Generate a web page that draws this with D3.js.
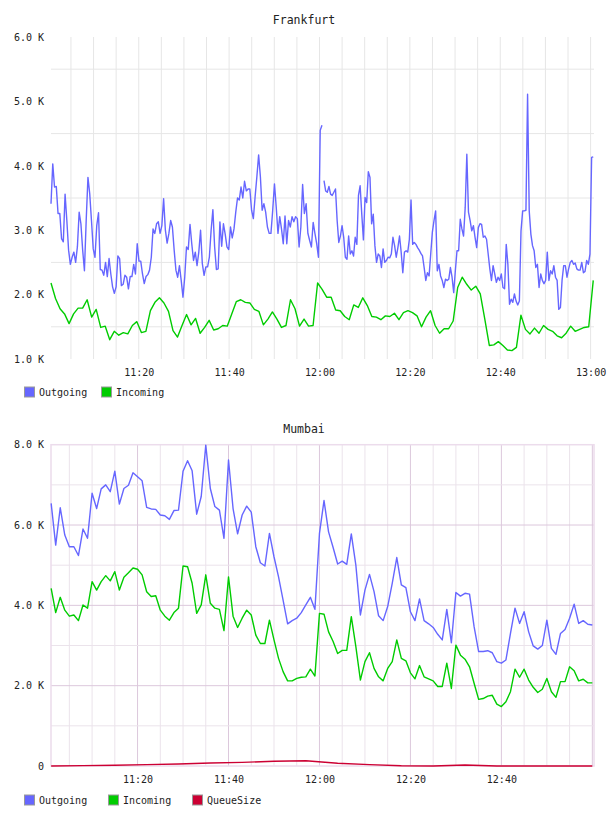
<!DOCTYPE html>
<html>
<head>
<meta charset="utf-8">
<script src="https://cdn.jsdelivr.net/npm/d3@7"></script>
<style>
  body { margin: 0; background: #fff; }
  text { font-family: "DejaVu Sans Mono", monospace; fill: #222; }
</style>
</head>
<body>
<svg id="chart" width="608" height="816"></svg>
<script>
// values are in thousands (K)
var seriesNames = ["Outgoing", "Incoming", "QueueSize"];
var seriesColors = ["#6666ff", "#00cc00", "#cc0033"];

// Frankfurt
var frankfurtTicks = [1, 2, 3, 4, 5, 6];
var frankfurtTimeLabels = ["11:20", "11:40", "12:00", "12:20", "12:40", "13:00"];
var frankfurtRange = ["11:00:35", "13:00:45"];
var frankfurtOutgoingSpanA = ["11:00:35", "12:00:33"];
var frankfurtOutgoingA = [3.41, 4.03, 3.67, 3.68, 3.26, 3.26, 2.87, 2.82, 3.56, 3.15,
  2.69, 2.47, 2.58, 2.66, 2.50, 2.74, 3.28, 3.10, 2.69, 2.37, 3.15, 3.82, 3.57, 3.15,
  2.71, 2.58, 3.07, 3.27, 2.39, 2.38, 2.30, 2.50, 2.28, 2.56, 2.32, 2.12, 2.02, 2.12,
  2.60, 2.56, 2.14, 2.16, 2.30, 2.27, 2.09, 2.28, 2.28, 2.47, 2.32, 2.79, 2.52, 2.52,
  2.32, 2.17, 2.28, 2.31, 2.38, 2.58, 3.02, 2.95, 3.10, 3.13, 2.95, 3.07, 3.49, 3.00,
  2.80, 2.95, 3.15, 3.05, 2.69, 2.38, 2.27, 2.45, 2.22, 1.96, 2.27, 2.74, 2.70, 3.09,
  2.79, 2.53, 2.66, 2.45, 2.66, 3.00, 2.48, 2.30, 2.43, 2.43, 2.58, 3.00, 3.32, 2.74,
  2.39, 2.40, 3.13, 2.75, 3.10, 2.94, 2.74, 2.70, 3.05, 2.88, 3.02, 3.28, 3.50, 3.47,
  3.67, 3.50, 3.76, 3.61, 3.64, 3.64, 3.31, 3.18, 3.52, 3.83, 4.17, 3.83, 3.31, 3.41,
  3.28, 3.05, 2.95, 2.95, 3.31, 3.72, 3.36, 2.95, 3.21, 3.02, 2.79, 3.22, 2.79, 3.15,
  3.05, 3.21, 3.13, 3.21, 3.18, 2.74, 3.05, 3.71, 3.26, 3.41, 2.95, 2.84, 2.74, 3.12,
  2.95, 2.79, 2.58, 4.55, 4.63];
var frankfurtOutgoingSpanB = ["12:01:00", "13:00:35"];
var frankfurtOutgoingB = [3.77, 3.61, 3.59, 3.68, 3.56, 3.54, 3.59, 3.64, 3.15, 2.81,
  2.91, 3.07, 2.89, 2.58, 2.55, 2.91, 2.63, 2.68, 2.60, 2.89, 2.78, 3.54, 3.69, 3.25,
  2.85, 3.51, 3.43, 3.91, 3.82, 3.10, 3.25, 2.76, 2.50, 2.63, 2.60, 2.42, 2.71, 2.50,
  2.53, 2.58, 2.57, 2.63, 2.89, 2.76, 2.58, 2.73, 2.91, 2.66, 2.34, 2.66, 2.68, 2.66,
  2.86, 3.47, 2.78, 2.81, 2.78, 2.73, 2.69, 2.64, 2.60, 2.42, 2.22, 2.34, 2.29, 2.63,
  2.97, 3.15, 3.30, 2.37, 2.47, 2.29, 2.22, 2.11, 2.24, 2.22, 2.24, 2.42, 2.27, 2.03,
  2.37, 2.68, 2.68, 3.17, 3.02, 2.91, 3.35, 4.18, 3.28, 3.15, 2.99, 3.07, 2.89, 2.73,
  3.04, 3.10, 3.09, 2.89, 2.91, 2.86, 2.63, 2.40, 2.22, 2.45, 2.32, 2.19, 2.27, 2.22,
  2.32, 2.11, 2.09, 2.78, 2.47, 1.85, 1.93, 1.88, 2.01, 1.90, 1.84, 1.90, 2.99, 3.30,
  3.30, 3.31, 5.11, 3.30, 2.94, 2.76, 2.68, 2.42, 2.47, 2.11, 2.32, 2.22, 2.17, 2.22,
  2.66, 2.22, 2.37, 2.32, 2.45, 2.27, 2.22, 1.77, 1.80, 2.22, 2.45, 2.45, 2.27, 2.40,
  2.50, 2.53, 2.47, 2.49, 2.40, 2.38, 2.38, 2.50, 2.34, 2.36, 2.53, 2.47, 2.63, 4.13, 4.14];
var frankfurtIncomingStart = "11:00:35"; // one sample per minute
var frankfurtIncoming = [2.18, 1.94, 1.78, 1.70, 1.55, 1.70, 1.79, 1.79, 1.92, 1.65,
  1.77, 1.49, 1.51, 1.30, 1.43, 1.37, 1.41, 1.39, 1.52, 1.58, 1.41, 1.43, 1.75, 1.88,
  1.95, 1.87, 1.74, 1.44, 1.34, 1.52, 1.69, 1.53, 1.63, 1.40, 1.49, 1.60, 1.45, 1.47,
  1.52, 1.51, 1.70, 1.89, 1.92, 1.88, 1.87, 1.77, 1.74, 1.53, 1.62, 1.73, 1.62, 1.49,
  1.52, 1.92, 1.78, 1.51, 1.62, 1.51, 1.52, 2.18, 2.08, 1.96, 1.96, 1.76, 1.75, 1.66,
  1.61, 1.84, 1.80, 1.95, 1.83, 1.66, 1.65, 1.61, 1.67, 1.66, 1.71, 1.61, 1.72, 1.75,
  1.72, 1.67, 1.50, 1.65, 1.75, 1.52, 1.40, 1.47, 1.47, 1.59, 2.11, 2.27, 2.16, 2.07,
  2.13, 2.01, 1.62, 1.21, 1.22, 1.27, 1.21, 1.14, 1.13, 1.18, 1.68, 1.46, 1.39, 1.48,
  1.40, 1.52, 1.46, 1.43, 1.36, 1.33, 1.40, 1.51, 1.43, 1.46, 1.49, 1.50, 2.22];

// Mumbai
var mumbaiTicks = [0, 2, 4, 6, 8];
var mumbaiTimeLabels = ["11:20", "11:40", "12:00", "12:20", "12:40"];
var mumbaiRange = ["11:00:58", "13:00:22"];
var mumbaiStart = "11:01:00"; // one sample per minute
var mumbaiOutgoing = [6.54, 5.50, 6.43, 5.75, 5.46, 5.46, 5.24, 5.90, 5.67, 6.79,
  6.41, 6.90, 7.00, 6.83, 7.34, 6.52, 6.91, 6.99, 7.30, 7.20, 7.10, 6.44, 6.40, 6.39,
  6.25, 6.23, 6.14, 6.36, 6.37, 7.34, 7.60, 7.35, 6.27, 6.71, 7.99, 6.91, 6.46, 6.37,
  5.67, 7.62, 6.41, 5.78, 6.25, 6.47, 6.32, 5.46, 5.06, 4.98, 5.79, 5.21, 4.71, 4.13,
  3.54, 3.62, 3.68, 3.82, 4.01, 4.20, 3.90, 5.79, 6.61, 5.83, 5.44, 5.03, 5.10, 5.02,
  5.78, 5.00, 3.76, 4.38, 4.77, 4.34, 3.74, 3.62, 3.97, 4.55, 5.19, 4.51, 4.44, 3.84,
  3.62, 4.16, 3.62, 3.54, 3.45, 3.28, 3.14, 3.90, 3.07, 4.32, 4.23, 4.30, 4.28, 3.47,
  2.85, 2.85, 2.87, 2.82, 2.60, 2.56, 2.64, 3.30, 3.93, 3.55, 3.84, 3.34, 2.99, 2.91,
  3.00, 3.63, 2.93, 2.78, 3.30, 3.40, 3.68, 4.03, 3.55, 3.62, 3.53, 3.51];
var mumbaiIncoming = [4.42, 3.82, 4.20, 3.88, 3.73, 3.76, 3.62, 4.01, 3.93, 4.59,
  4.38, 4.59, 4.74, 4.61, 4.84, 4.38, 4.70, 4.81, 4.93, 4.90, 4.76, 4.34, 4.22, 4.24,
  3.88, 3.73, 3.63, 3.82, 3.93, 4.98, 4.96, 4.55, 3.80, 4.01, 4.76, 4.05, 3.93, 3.90,
  3.37, 4.71, 3.73, 3.45, 3.68, 3.88, 3.76, 3.26, 3.05, 3.05, 3.63, 3.14, 2.68, 2.35,
  2.12, 2.12, 2.18, 2.21, 2.22, 2.41, 2.24, 3.80, 3.78, 3.34, 3.10, 2.80, 2.88, 2.88,
  3.72, 2.97, 2.14, 2.60, 2.82, 2.43, 2.22, 2.12, 2.43, 2.60, 3.14, 2.68, 2.62, 2.32,
  2.17, 2.50, 2.22, 2.17, 2.12, 1.98, 1.98, 2.56, 1.93, 3.01, 2.76, 2.66, 2.47, 2.06,
  1.66, 1.68, 1.74, 1.76, 1.54, 1.48, 1.60, 1.85, 2.41, 2.21, 2.41, 2.14, 1.96, 1.83,
  1.91, 2.18, 1.85, 1.71, 2.10, 2.10, 2.47, 2.37, 2.12, 2.16, 2.07, 2.07];
var mumbaiQueueStep = 7; // minutes between queue samples
var mumbaiQueue = [0, 0.01, 0.02, 0.035, 0.05, 0.075, 0.09, 0.12, 0.13, 0.07,
  0.035, 0.005, 0, 0.025, 0, 0, 0, 0];

var parseTime = d3.timeParse("%H:%M:%S");

function everyStep(values, start, stepSec) {
  var t0 = parseTime(start).getTime();
  return values.map(function(v, i) { return { t: new Date(t0 + i * stepSec * 1000), v: v }; });
}

function overSpan(values, span) {
  var t0 = parseTime(span[0]).getTime(), t1 = parseTime(span[1]).getTime();
  var step = (t1 - t0) / (values.length - 1);
  return values.map(function(v, i) { return { t: new Date(t0 + i * step), v: v }; });
}

function formatK(d) { return d === 0 ? "0" : d.toFixed(1) + " K"; }

var svg = d3.select("#chart");
var left = 51, right = 594;

function drawChart(cfg) {
  var g = svg.append("g");
  var x = d3.scaleTime().domain(cfg.range.map(parseTime)).range([left, right]);
  var y = d3.scaleLinear().domain(cfg.yDomain).range([cfg.bottom, cfg.top]);
  var h = cfg.bottom - cfg.top;

  var fiveMin = d3.timeMinute.every(5).range(x.domain()[0], x.domain()[1]);
  var isMajorT = function(d) { return cfg.majorGrid && d.getMinutes() % 20 === 0; };

  // vertical grid
  g.selectAll(".vgrid").data(fiveMin).join("line")
    .attr("x1", function(d) { return x(d); }).attr("x2", function(d) { return x(d); })
    .attr("y1", cfg.top).attr("y2", cfg.bottom)
    .attr("stroke", function(d) { return isMajorT(d) ? cfg.majorColor : cfg.gridColor; })
    .attr("stroke-width", 1);

  // horizontal grid
  var hLines = cfg.minorY.map(function(v) { return { v: v, major: false }; })
    .concat(cfg.majorY.map(function(v) { return { v: v, major: true }; }));
  g.selectAll(".hgrid").data(hLines).join("line")
    .attr("x1", left).attr("x2", right)
    .attr("y1", function(d) { return y(d.v); }).attr("y2", function(d) { return y(d.v); })
    .attr("stroke", function(d) { return d.major ? cfg.majorColor : cfg.gridColor; })
    .attr("stroke-width", 1);

  if (cfg.border) {
    g.append("rect").attr("x", left).attr("y", cfg.top)
      .attr("width", right - left).attr("height", h)
      .attr("fill", "none").attr("stroke", cfg.borderColor).attr("stroke-width", 1.5);
  }

  // axes (labels only)
  var yAxis = g.append("g").attr("transform", "translate(" + left + ",0)")
    .call(d3.axisLeft(y).tickValues(cfg.ticks).tickFormat(formatK).tickSize(0).tickPadding(7));
  var xAxis = g.append("g").attr("transform", "translate(0," + cfg.bottom + ")")
    .call(d3.axisBottom(x)
      .tickValues(cfg.timeLabels.map(function(s) { return parseTime(s + ":00"); }))
      .tickFormat(d3.timeFormat("%H:%M")).tickSize(0).tickPadding(10));
  [yAxis, xAxis].forEach(function(a) {
    a.select(".domain").remove();
    a.selectAll("text").style("font-family", "'DejaVu Sans Mono', monospace")
      .style("font-size", "10px").attr("fill", "#222");
  });

  // title
  g.append("text").attr("x", 304).attr("y", cfg.titleY).attr("text-anchor", "middle")
    .style("font-size", "11.5px").text(cfg.title);

  // lines
  var line = d3.line().x(function(d) { return x(d.t); }).y(function(d) { return y(d.v); });
  cfg.series.forEach(function(s) {
    s.parts.forEach(function(p) {
      g.append("path").datum(p).attr("d", line)
        .attr("fill", "none").attr("stroke", seriesColors[s.idx])
        .attr("stroke-width", 1.4).attr("stroke-linejoin", "round");
    });
  });

  // legend
  var legend = g.append("g").attr("transform", "translate(0," + cfg.legendY + ")");
  var item = legend.selectAll("g").data(cfg.series).join("g")
    .attr("transform", function(d, i) { return "translate(" + cfg.legendX[i] + ",0)"; });
  item.append("rect").attr("x", 0.5).attr("y", -5).attr("width", 10).attr("height", 10)
    .attr("fill", function(d) { return seriesColors[d.idx]; })
    .attr("stroke", "#999").attr("stroke-width", 1);
  item.append("text").attr("x", 15).attr("y", 0).attr("dy", "0.35em")
    .style("font-size", "10px").text(function(d) { return seriesNames[d.idx]; });
}

drawChart({
  title: "Frankfurt", titleY: 24,
  range: frankfurtRange, yDomain: [1, 6], top: 37, bottom: 359,
  ticks: frankfurtTicks, timeLabels: frankfurtTimeLabels,
  minorY: [1.5, 2.5, 3.5, 4.5, 5.5], majorY: [],
  gridColor: "#e6e6e6", majorColor: "#e6e6e6", majorGrid: false, border: false,
  legendY: 392, legendX: [24, 101],
  series: [
    { idx: 0, parts: [overSpan(frankfurtOutgoingA, frankfurtOutgoingSpanA),
                      overSpan(frankfurtOutgoingB, frankfurtOutgoingSpanB)] },
    { idx: 1, parts: [everyStep(frankfurtIncoming, frankfurtIncomingStart, 60)] }
  ]
});

drawChart({
  title: "Mumbai", titleY: 433,
  range: mumbaiRange, yDomain: [0, 8], top: 444.7, bottom: 766,
  ticks: mumbaiTicks, timeLabels: mumbaiTimeLabels,
  minorY: [1, 3, 5, 7], majorY: [2, 4, 6],
  gridColor: "#ebe3eb", majorColor: "#dcc8dc", majorGrid: true,
  border: true, borderColor: "#ecdcec",
  legendY: 800, legendX: [24, 108, 192],
  series: [
    { idx: 0, parts: [everyStep(mumbaiOutgoing, mumbaiStart, 60)] },
    { idx: 1, parts: [everyStep(mumbaiIncoming, mumbaiStart, 60)] },
    { idx: 2, parts: [everyStep(mumbaiQueue, mumbaiStart, mumbaiQueueStep * 60)] }
  ]
});
</script>
</body>
</html>
